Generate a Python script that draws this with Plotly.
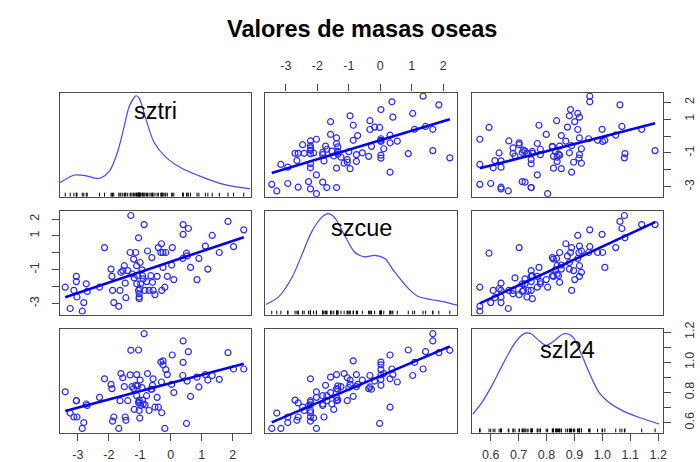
import numpy as np
import plotly.graph_objects as go

# ---------------- data ----------------
sztri = [-3.41, -3.25, -3.13, -3.05, -3.05, -3.03, -2.86, -2.81, -2.73, -2.70,
         -2.30, -2.14, -1.93, -1.90, -1.88, -1.84, -1.68, -1.64, -1.61, -1.55,
         -1.50, -1.47, -1.45, -1.39, -1.31, -1.29, -1.25, -1.20, -1.18, -1.13,
         -1.10, -1.10, -1.07, -1.04, -1.04, -1.02, -1.02, -1.02, -1.00, -0.99,
         -0.97, -0.93, -0.91, -0.89, -0.86, -0.83, -0.78, -0.75, -0.70, -0.64,
         -0.61, -0.59, -0.57, -0.51, -0.44, -0.40, -0.32, -0.30, -0.29, -0.25,
         -0.25, -0.19, -0.16, -0.11, 0.03, 0.05, 0.10, 0.39, 0.40, 0.40,
         0.51, 0.53, 0.57, 0.64, 0.85, 0.91, 1.12, 1.20, 1.34, 1.57,
         1.85, 2.03, 2.36]
szcue = [-2.03, -3.29, -2.22, -1.39, -1.70, -2.61, -3.45, -2.94, -1.83, -2.28,
         -2.03, 0.31, -0.96, -1.39, -2.22, -2.94, -3.16, -2.22, -1.15, -1.05,
         -0.76, -1.79, -2.65, -1.05, 0.02, 2.21, -1.25, -0.37, -1.48, 0.02,
         -0.76, -1.83, -1.35, 0.89, -2.22, -2.42, -2.61, -2.71, -2.12, -0.57,
         -1.83, -1.00, -1.35, -1.54, 1.67, -2.22, -1.70, 0.11, -2.22, -1.35,
         -0.28, -1.74, -2.22, -2.47, -1.39, 0.31, 0.02, 0.54, -2.22, -0.86,
         0.02, -2.03, 0.02, -1.39, -0.72, 0.31, -1.58, -0.33, 1.67, 1.09,
         -0.02, -0.18, 1.44, -0.86, -1.58, -0.33, 0.40, -0.96, 1.03, 0.02,
         1.86, 0.37, 1.36]
szl24 = [0.804, 0.663, 0.637, 0.745, 0.745, 0.637, 0.561, 0.600, 0.723, 0.713,
         0.767, 0.890, 0.853, 0.825, 0.609, 0.637, 0.561, 0.745, 0.925, 0.897,
         0.838, 0.637, 0.615, 0.745, 0.916, 1.079, 0.838, 0.825, 0.687, 0.847,
         0.918, 0.778, 0.843, 1.081, 0.734, 0.680, 0.730, 0.749, 0.630, 0.882,
         0.713, 0.832, 0.749, 0.723, 1.189, 0.717, 0.778, 0.925, 0.680, 0.821,
         0.821, 0.847, 0.890, 0.702, 0.767, 0.702, 1.001, 0.869, 0.665, 1.009,
         0.983, 0.561, 0.951, 0.918, 0.853, 1.048, 0.799, 0.912, 1.141, 0.999,
         0.594, 0.875, 1.070, 0.773, 0.901, 0.836, 0.918, 0.882, 0.912, 0.886,
         1.063, 0.955, 0.955]

# density curves (relative height 0..1 of the diagonal panel)
dens_sztri_x = [-3.57, -3.11, -2.73, -2.41, -2.25, -1.98, -1.72, -1.50, -1.34, -1.12,
                -1.02, -0.80, -0.54, -0.16, 0.37, 1.13, 1.77, 2.57]
dens_sztri_y = [0.135, 0.208, 0.200, 0.176, 0.182, 0.245, 0.427, 0.679, 0.868, 0.969,
                0.946, 0.742, 0.522, 0.380, 0.270, 0.176, 0.113, 0.075]
dens_szcue_x = [-3.64, -3.24, -2.82, -2.50, -2.19, -1.87, -1.66, -1.45, -1.13, -0.82,
                -0.50, -0.18, 0.14, 0.45, 0.88, 1.19, 1.61, 2.04, 2.44]
dens_szcue_y = [0.098, 0.169, 0.352, 0.574, 0.797, 0.940, 0.978, 0.940, 0.765, 0.607,
                0.559, 0.574, 0.543, 0.416, 0.257, 0.178, 0.146, 0.124, 0.092]
dens_szl24_x = [0.536, 0.568, 0.609, 0.645, 0.681, 0.710, 0.728, 0.746, 0.770, 0.799,
                0.829, 0.859, 0.877, 0.895, 0.924, 0.954, 0.989, 1.025, 1.073, 1.132, 1.203]
dens_szl24_y = [0.178, 0.289, 0.479, 0.670, 0.845, 0.940, 0.965, 0.955, 0.898, 0.845,
                0.892, 0.955, 0.955, 0.924, 0.765, 0.574, 0.384, 0.289, 0.210, 0.146, 0.083]

var_names = ["sztri", "szcue", "szl24"]
values = {"sztri": np.array(sztri), "szcue": np.array(szcue), "szl24": np.array(szl24)}
dens = {"sztri": (dens_sztri_x, dens_sztri_y),
        "szcue": (dens_szcue_x, dens_szcue_y),
        "szl24": (dens_szl24_x, dens_szl24_y)}
ranges = {"sztri": [-3.59, 2.58], "szcue": [-3.65, 2.45], "szl24": [0.534, 1.218]}

int_ticks = [-3, -2, -1, 0, 1, 2]
dec_ticks = [0.6, 0.7, 0.8, 0.9, 1.0, 1.1, 1.2]

# ---------------- layout geometry ----------------
W, H = 700, 462
col_px = [(60, 252), (267, 460), (475, 667)]
row_px = [(86, 192), (207, 312), (327, 432)]

BLUE_PT = "rgb(40,40,255)"
BLUE_LN = "rgb(0,0,235)"
BLUE_DN = "rgb(70,70,255)"
FRAME = "#4a4a4a"
FONT = "Liberation Sans, Arial, sans-serif"

fig = go.Figure()
layout = dict(width=W, height=H, margin=dict(l=0, r=0, t=0, b=0),
              paper_bgcolor="white", plot_bgcolor="white", showlegend=False)

tickfont = dict(family=FONT, size=12.5, color="#333333")


def axis_base(domain):
    return dict(domain=domain, showline=True, mirror=True, linecolor=FRAME,
                linewidth=1.3, showgrid=False, zeroline=False, ticks="",
                showticklabels=False, fixedrange=True)


def tick_style(vals, texts, side, angle=0, standoff=4):
    return dict(ticks="outside", ticklen=7, tickwidth=1, tickcolor=FRAME,
                showticklabels=True, tickvals=vals, ticktext=texts, side=side,
                tickfont=tickfont, tickangle=angle, ticklabelstandoff=standoff)


annotations = []
for r in range(3):
    for c in range(3):
        k = r * 3 + c + 1
        sfx = "" if k == 1 else str(k)
        xd = [col_px[c][0] / W, col_px[c][1] / W]
        yd = [(H - row_px[r][1]) / H, (H - row_px[r][0]) / H]
        vx = var_names[c]
        vy = var_names[r]
        xa = axis_base(xd)
        ya = axis_base(yd)
        xa.update(anchor="y" + sfx, range=ranges[vx])
        ya.update(anchor="x" + sfx, range=ranges[vy])
        layout["xaxis" + sfx] = xa
        layout["yaxis" + sfx] = ya

        if r == c:
            # diagonal: density drawn in the panel's own y units (relative height -> range)
            lo, hi = ranges[vy]
            dx, dy = dens[vx]
            dy_units = [lo + v * (hi - lo) for v in dy]
            fig.add_trace(go.Scatter(x=dx, y=dy_units, mode="lines",
                                     line=dict(color=BLUE_DN, width=1.2, shape="spline", smoothing=0.8),
                                     xaxis="x" + sfx, yaxis="y" + sfx, hoverinfo="skip"))
            rx, ry = [], []
            for v in values[vx]:
                rx += [v, v, None]
                ry += [lo, lo + 0.038 * (hi - lo), None]
            fig.add_trace(go.Scatter(x=rx, y=ry, mode="lines",
                                     line=dict(color="black", width=1),
                                     xaxis="x" + sfx, yaxis="y" + sfx, hoverinfo="skip"))
            cy = {0: 104.8, 1: 223.5, 2: 348.5}[r]
            annotations.append(dict(text=vx, x=(col_px[c][0] + col_px[c][1]) / 2 / W,
                                    y=(H - cy) / H, xref="paper", yref="paper",
                                    showarrow=False, xanchor="center", yanchor="middle",
                                    font=dict(family=FONT, size=23.5, color="black")))
        else:
            x = values[vx]
            y = values[vy]
            fig.add_trace(go.Scatter(x=x, y=y, mode="markers",
                                     marker=dict(symbol="circle-open", size=6,
                                                 color=BLUE_PT, line=dict(width=1.2, color=BLUE_PT)),
                                     xaxis="x" + sfx, yaxis="y" + sfx, hoverinfo="skip"))
            slope, icpt = np.polyfit(x, y, 1)
            xs = np.array([x.min(), x.max()])
            fig.add_trace(go.Scatter(x=xs, y=icpt + slope * xs, mode="lines",
                                     line=dict(color=BLUE_LN, width=2.6),
                                     xaxis="x" + sfx, yaxis="y" + sfx, hoverinfo="skip"))

# outer axes with ticks (as in the reference)
int_text = [str(v) for v in int_ticks]
int_text_sparse = ["-3", "", "-1", "", "1", "2"]
dec_text = ["%.1f" % v for v in dec_ticks]
dec_text_sparse = ["0.6", "", "0.8", "", "1.0", "", "1.2"]

layout["xaxis7"].update(tick_style(int_ticks, int_text, "bottom", standoff=3))
layout["xaxis2"].update(tick_style(int_ticks, int_text, "top", standoff=9))
layout["xaxis9"].update(tick_style(dec_ticks, dec_text, "bottom", standoff=3))
layout["yaxis3"].update(tick_style(int_ticks, int_text_sparse, "right", -90, standoff=8))
layout["yaxis4"].update(tick_style(int_ticks, int_text_sparse, "left", -90, standoff=8))
layout["yaxis9"].update(tick_style(dec_ticks, dec_text_sparse, "right", -90, standoff=8))

annotations.append(dict(text="Valores de masas oseas", x=364 / W, y=(H - 21.8) / H,
                        xref="paper", yref="paper", showarrow=False,
                        xanchor="center", yanchor="middle",
                        font=dict(family=FONT, size=23.5, color="black", weight="bold")))
layout["annotations"] = annotations

fig.update_layout(**layout)
fig.write_html("out.html")
